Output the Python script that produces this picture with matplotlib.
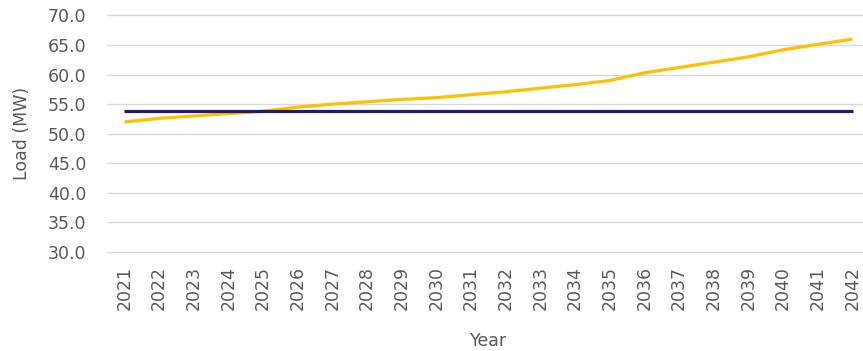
import matplotlib
matplotlib.use("Agg")
import matplotlib.pyplot as plt

years = [str(y) for y in range(2021, 2043)]
forecast_load = [52.0, 52.6, 53.0, 53.4, 53.8, 54.5, 55.0, 55.4, 55.8, 56.1, 56.6,
                 57.1, 57.7, 58.3, 59.0, 60.3, 61.2, 62.1, 63.0, 64.2, 65.1, 66.0]
capacity = [53.85] * len(years)
y_ticks = [30.0, 35.0, 40.0, 45.0, 50.0, 55.0, 60.0, 65.0, 70.0]

plt.rcParams.update({
    "font.family": "DejaVu Sans",
    "font.size": 12.5,
})
TEXT = "#595959"

fig = plt.figure(figsize=(8.63, 3.51), dpi=100)
ax = fig.add_axes([0.124, 0.282, 0.884, 0.674])

x = range(len(years))
ax.plot(x, forecast_load, color="#FFC000", linewidth=2.3, solid_capstyle="butt", zorder=3)
ax.plot(x, capacity, color="#221A70", linewidth=2.3, solid_capstyle="butt", zorder=4)

ax.set_xlim(-0.5, len(years) - 0.5)
ax.set_ylim(30, 70)
ax.set_yticks(y_ticks)
ax.set_yticklabels([f"{v:.1f}" for v in y_ticks], color=TEXT)
ax.set_xticks(list(x))
ax.set_xticklabels(years, rotation=90, color=TEXT)
ax.tick_params(axis="both", length=0)
ax.tick_params(axis="y", pad=15)
ax.tick_params(axis="x", pad=10)

# horizontal gridlines, including the ones on the axes edges
for v in y_ticks:
    ax.axhline(v, color="#D9D9D9", linewidth=1.0, zorder=1, clip_on=False)
for spine in ax.spines.values():
    spine.set_visible(False)

ax.set_xlabel("Year", color=TEXT, labelpad=16)
ax.set_ylabel("Load (MW)", color=TEXT, labelpad=12)

fig.savefig("out.png", dpi=100, facecolor="white")
